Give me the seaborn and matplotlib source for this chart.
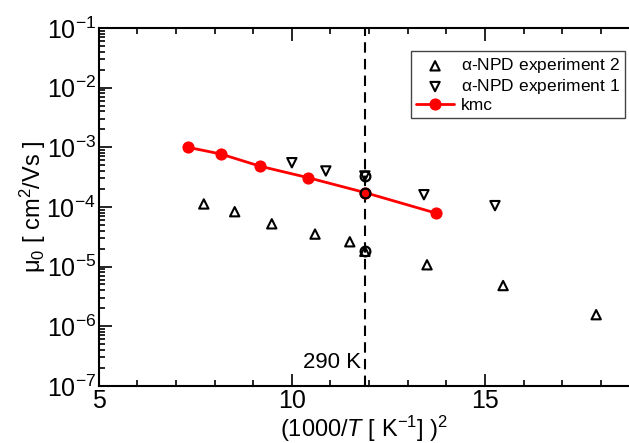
import numpy as np
import matplotlib
matplotlib.use("Agg")
import matplotlib.pyplot as plt
import seaborn as sns
from matplotlib.ticker import LogLocator, MultipleLocator, NullFormatter

# kmc simulation (T = 370 ... 270 K)
kmc_x = [7.30, 8.16, 9.18, 10.41, 11.89, 13.72]
kmc_mu = [1.0e-3, 7.7e-4, 4.8e-4, 3.1e-4, 1.74e-4, 7.9e-5]

# alpha-NPD experiment 2 (up triangles)
exp2_x = [7.72, 8.52, 9.48, 10.60, 11.50, 11.89, 13.50, 15.47, 17.88]
exp2_mu = [1.12e-4, 8.3e-5, 5.2e-5, 3.5e-5, 2.6e-5, 1.8e-5, 1.07e-5, 4.8e-6, 1.56e-6]

# alpha-NPD experiment 1 (down triangles)
exp1_x = [10.00, 10.88, 11.89, 13.42, 15.26]
exp1_mu = [5.5e-4, 4.0e-4, 3.3e-4, 1.6e-4, 1.05e-4]

# values at 290 K that are circled
x_290 = 11.89
mu_290 = [3.3e-4, 1.74e-4, 1.8e-5]

sns.set_theme(style="ticks")
plt.rcParams["font.family"] = ["Liberation Sans", "DejaVu Sans"]
plt.rcParams["mathtext.fontset"] = "custom"
plt.rcParams["mathtext.rm"] = "Liberation Sans"
plt.rcParams["mathtext.it"] = "Liberation Sans:italic"
plt.rcParams["mathtext.default"] = "regular"
for key in ["text.color", "axes.labelcolor", "xtick.color", "ytick.color"]:
    plt.rcParams[key] = "black"

fig = plt.figure(figsize=(6.29, 4.43), dpi=100)
ax = fig.add_axes([0.157, 0.129, 0.843, 0.808])

ax.axvline(x_290, color="black", linestyle=(0, (5, 3)), linewidth=1.5, zorder=1)

sns.scatterplot(x=exp2_x, y=exp2_mu, marker="^", s=45, facecolor="none",
                edgecolor="black", linewidth=1.5, label=r"$\alpha$-NPD experiment 2",
                ax=ax, zorder=3)
sns.scatterplot(x=exp1_x, y=exp1_mu, marker="v", s=45, facecolor="none",
                edgecolor="black", linewidth=1.5, label=r"$\alpha$-NPD experiment 1",
                ax=ax, zorder=3)
sns.lineplot(x=kmc_x, y=kmc_mu, color="red", linewidth=2, marker="o",
             markersize=8, markeredgecolor="red", label="kmc", ax=ax, zorder=4)
ax.plot([x_290] * len(mu_290), mu_290, linestyle="none", marker="o", markersize=7,
        markerfacecolor="none", markeredgecolor="black", markeredgewidth=1.6, zorder=5)

ax.set_yscale("log")
ax.set_xlim(5, 18.73)
ax.set_ylim(1e-7, 1e-1)
ax.xaxis.set_major_locator(MultipleLocator(5))
ax.xaxis.set_minor_locator(MultipleLocator(1))
ax.yaxis.set_major_locator(LogLocator(base=10, numticks=10))
ax.yaxis.set_minor_locator(LogLocator(base=10, subs=np.arange(2, 10), numticks=20))
ax.yaxis.set_minor_formatter(NullFormatter())

ax.tick_params(which="both", direction="in", top=True, right=False,
               labelsize=18, color="black", width=1.2)
ax.tick_params(which="major", length=9)
ax.tick_params(which="minor", length=4)
ax.tick_params(axis="x", pad=2)
ax.tick_params(axis="y", pad=2)

for side in ["left", "bottom", "top"]:
    ax.spines[side].set_color("black")
    ax.spines[side].set_linewidth(1.5)
ax.spines["right"].set_visible(False)

ax.set_xlabel(r"(1000/$\it{T}$ [ K$^{-1}$] )$^2$", fontsize=17, labelpad=1)
ax.set_ylabel(r"$\mu_0$ [ cm$^2$/Vs ]", fontsize=17, labelpad=-1)

ax.text(11.78, 2.5e-7, "290 K", fontsize=16, ha="right", va="center")

leg = ax.legend(loc="upper right", bbox_to_anchor=(0.993, 0.935), fontsize=12.5,
                frameon=True, fancybox=False, framealpha=1, edgecolor="#444444",
                borderpad=0.3, labelspacing=0.1, handletextpad=0.4, handlelength=2.2,
                borderaxespad=0)
leg.get_frame().set_linewidth(1.0)

fig.savefig("out.png", dpi=100)
